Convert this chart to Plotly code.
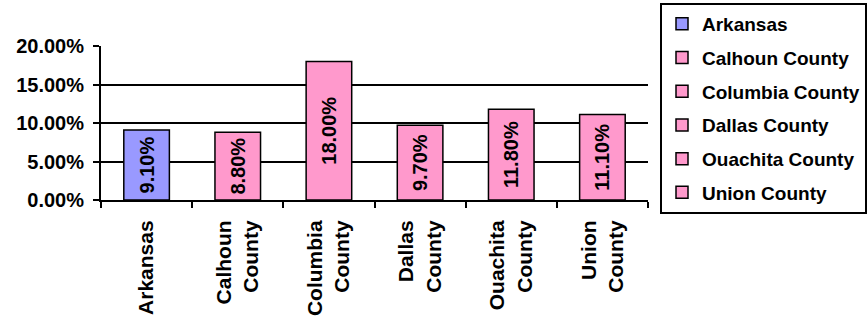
import plotly.graph_objects as go

categories = ["Arkansas", "Calhoun County", "Columbia County", "Dallas County",
              "Ouachita County", "Union County"]
tick_labels = ["Arkansas", "Calhoun<br>County", "Columbia<br>County", "Dallas<br>County",
               "Ouachita<br>County", "Union<br>County"]
values = [0.091, 0.088, 0.180, 0.097, 0.118, 0.111]
colors = ["#9999FF", "#FF99CC", "#FF99CC", "#FF99CC", "#FF99CC", "#FF99CC"]

FONT = "Liberation Sans, Arial, sans-serif"

fig = go.Figure()
for cat, lab, val, col in zip(categories, tick_labels, values, colors):
    fig.add_trace(go.Bar(
        x=[lab], y=[val], name=cat, legendgroup=cat,
        marker=dict(color=col, line=dict(color="black", width=1.5)),
        texttemplate="%{y:.2%}", textposition="inside", insidetextanchor="middle",
        textangle=-90, constraintext="none",
        textfont=dict(family=FONT, size=20, color="black", weight="bold"),
        hoverinfo="skip",
    ))

W, H = 868, 317
ml, mr, mt, mb = 100.5, 219.5, 46, 117

fig.update_layout(
    width=W, height=H,
    margin=dict(l=ml, r=mr, t=mt, b=mb, pad=0, autoexpand=False),
    paper_bgcolor="white", plot_bgcolor="white",
    barmode="overlay", bargap=0.5,
    font=dict(family=FONT, color="black", weight="bold"),
    showlegend=True,
    legend=dict(
        xref="container", yref="container",
        x=660 / W, xanchor="left",
        y=1 - 3 / H, yanchor="top",
        bordercolor="black", borderwidth=2, bgcolor="white",
        font=dict(family=FONT, size=19, color="black", weight="bold"),
        tracegroupgap=6, itemclick=False, itemdoubleclick=False,
        maxheight=1,
    ),
    xaxis=dict(
        type="category", showline=True, linecolor="black", linewidth=2,
        ticks="outside", tickson="boundaries", ticklen=6, tickwidth=2, tickcolor="black",
        tickangle=-90, showgrid=False, automargin=False,
        tickfont=dict(family=FONT, size=21, color="black", weight="bold"),
        ticklabelstandoff=10,
    ),
    yaxis=dict(
        range=[0, 0.2], dtick=0.05, tickformat=".2%", automargin=False,
        showline=True, linecolor="black", linewidth=2,
        ticks="outside", ticklen=6, tickwidth=2, tickcolor="black",
        showgrid=True, gridcolor="black", gridwidth=2, zeroline=False,
        tickfont=dict(family=FONT, size=20, color="black", weight="bold"),
        ticklabelstandoff=5,
    ),
)

fig.write_html(
    "out.html",
    config={"displayModeBar": False},
    post_script="document.body.style.margin='0px';document.body.style.overflow='hidden';",
)
